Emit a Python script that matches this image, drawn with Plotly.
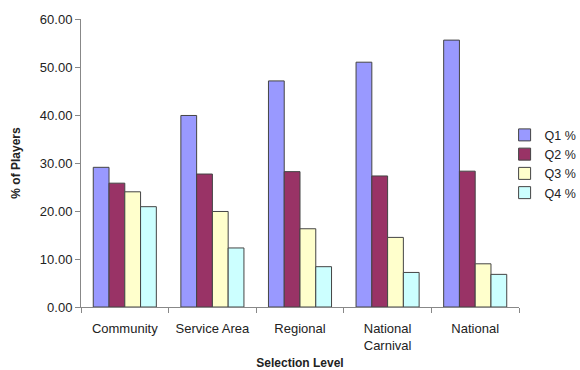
import plotly.graph_objects as go

categories = ["Community", "Service Area", "Regional", "National<br>Carnival", "National"]
q1 = [29.1, 39.9, 47.1, 51.0, 55.6]
q2 = [25.8, 27.7, 28.2, 27.3, 28.3]
q3 = [24.0, 19.9, 16.3, 14.5, 9.0]
q4 = [20.9, 12.3, 8.4, 7.2, 6.8]
series_names = ["Q1 %", "Q2 %", "Q3 %", "Q4 %"]
colors = ["#9999FF", "#993366", "#FFFFCC", "#CCFFFF"]

fig = go.Figure()
for name, vals, col in zip(series_names, [q1, q2, q3, q4], colors):
    fig.add_trace(go.Bar(x=categories, y=vals, name=name,
                         marker=dict(color=col, line=dict(color="#444444", width=1))))

font_family = "Liberation Sans, Arial, sans-serif"
fig.update_layout(
    width=580, height=370,
    margin=dict(l=81, r=61, t=19, b=63, autoexpand=False),
    paper_bgcolor="white", plot_bgcolor="white",
    barmode="group", bargap=0.28, bargroupgap=0,
    font=dict(family=font_family, size=13, color="#222222"),
    legend=dict(xref="container", yref="container", x=0.87, y=0.675,
                xanchor="left", yanchor="top",
                font=dict(size=12.5), tracegroupgap=0, itemwidth=30),
    showlegend=True,
)
fig.update_xaxes(
    showline=True, linecolor="#888888", linewidth=1,
    ticks="outside", tickson="boundaries", ticklen=5, tickcolor="#888888",
    tickangle=0, automargin=False, ticklabelstandoff=9,
    title=dict(text="<b>Selection Level</b>", font=dict(size=12), standoff=15),
    showgrid=False,
)
fig.update_yaxes(
    range=[0, 60], dtick=10, tickformat=".2f", automargin=False,
    showline=True, linecolor="#888888", linewidth=1,
    ticks="outside", ticklen=5, tickcolor="#888888",
    title=dict(text="<b>% of Players</b>", font=dict(size=12), standoff=16),
    showgrid=False, zeroline=False,
)
fig.write_html("out.html")
